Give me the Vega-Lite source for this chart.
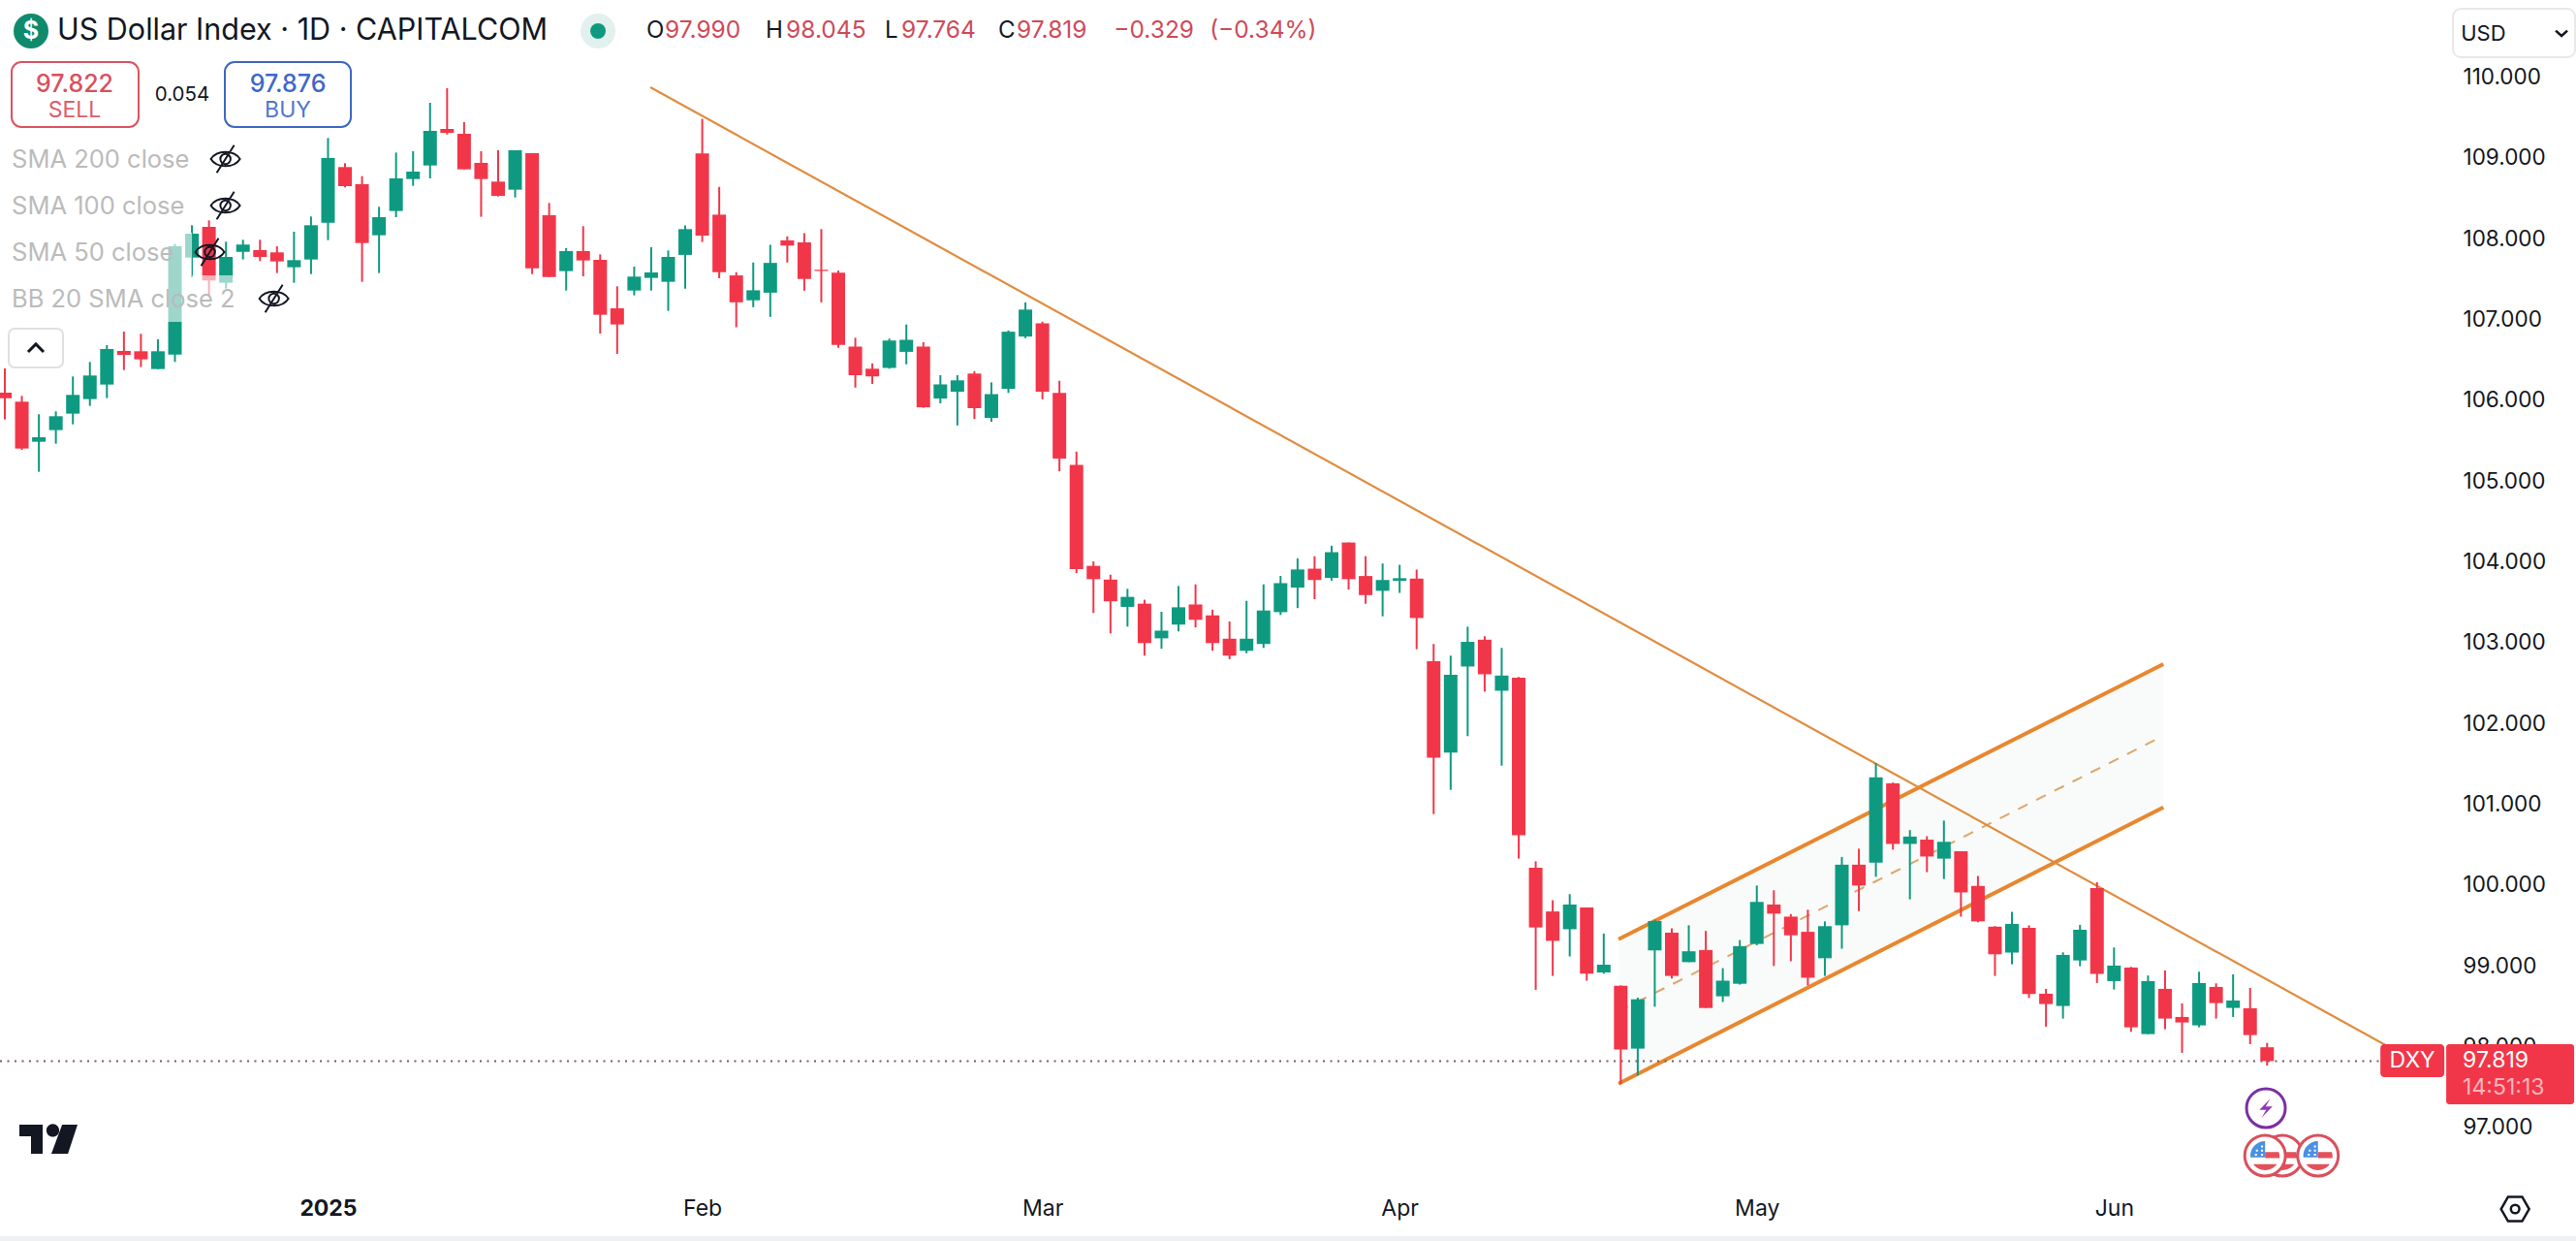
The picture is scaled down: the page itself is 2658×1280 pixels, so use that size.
{
  "$schema": "https://vega.github.io/schema/vega-lite/v6.json",
  "width": 2658,
  "height": 1280,
  "autosize": {"type": "none"},
  "padding": 0,
  "background": "white",
  "config": {
    "view": {"stroke": null},
    "text": {"font": "Inter", "baseline": "middle"}
  },
  "datasets": {
    "candles": [
      {"bar":0,"open":106.093,"high":106.393,"low":105.761,"close":106.025},
      {"bar":1,"open":105.981,"high":106.053,"low":105.385,"close":105.401},
      {"bar":2,"open":105.485,"high":105.825,"low":105.113,"close":105.541},
      {"bar":3,"open":105.629,"high":105.861,"low":105.461,"close":105.801},
      {"bar":4,"open":105.833,"high":106.293,"low":105.701,"close":106.065},
      {"bar":5,"open":106.013,"high":106.473,"low":105.929,"close":106.305},
      {"bar":6,"open":106.193,"high":106.681,"low":106.025,"close":106.633},
      {"bar":7,"open":106.609,"high":106.849,"low":106.373,"close":106.561},
      {"bar":8,"open":106.605,"high":106.821,"low":106.409,"close":106.505},
      {"bar":9,"open":106.385,"high":106.753,"low":106.385,"close":106.605},
      {"bar":10,"open":106.565,"high":107.933,"low":106.473,"close":107.905},
      {"bar":11,"open":107.765,"high":108.165,"low":107.521,"close":108.061},
      {"bar":12,"open":108.145,"high":108.225,"low":107.293,"close":107.481},
      {"bar":13,"open":107.453,"high":107.961,"low":107.381,"close":107.773},
      {"bar":14,"open":107.837,"high":107.985,"low":107.741,"close":107.925},
      {"bar":15,"open":107.857,"high":107.985,"low":107.721,"close":107.773},
      {"bar":16,"open":107.829,"high":107.905,"low":107.573,"close":107.717},
      {"bar":17,"open":107.645,"high":108.085,"low":107.453,"close":107.733},
      {"bar":18,"open":107.741,"high":108.273,"low":107.561,"close":108.165},
      {"bar":19,"open":108.197,"high":109.245,"low":107.981,"close":108.997},
      {"bar":20,"open":108.885,"high":108.933,"low":108.633,"close":108.649},
      {"bar":21,"open":108.673,"high":108.773,"low":107.465,"close":107.945},
      {"bar":22,"open":108.041,"high":108.393,"low":107.573,"close":108.265},
      {"bar":23,"open":108.341,"high":109.065,"low":108.265,"close":108.745},
      {"bar":24,"open":108.737,"high":109.081,"low":108.653,"close":108.829},
      {"bar":25,"open":108.905,"high":109.681,"low":108.745,"close":109.333},
      {"bar":26,"open":109.357,"high":109.861,"low":109.289,"close":109.309},
      {"bar":27,"open":109.297,"high":109.441,"low":108.857,"close":108.857},
      {"bar":28,"open":108.937,"high":109.081,"low":108.269,"close":108.737},
      {"bar":29,"open":108.705,"high":109.093,"low":108.521,"close":108.529},
      {"bar":30,"open":108.605,"high":109.093,"low":108.509,"close":109.093},
      {"bar":31,"open":109.057,"high":109.057,"low":107.561,"close":107.633},
      {"bar":32,"open":108.289,"high":108.441,"low":107.525,"close":107.525},
      {"bar":33,"open":107.597,"high":107.881,"low":107.357,"close":107.845},
      {"bar":34,"open":107.845,"high":108.153,"low":107.533,"close":107.729},
      {"bar":35,"open":107.737,"high":107.805,"low":106.825,"close":107.057},
      {"bar":36,"open":107.137,"high":107.409,"low":106.573,"close":106.937},
      {"bar":37,"open":107.357,"high":107.653,"low":107.297,"close":107.529},
      {"bar":38,"open":107.513,"high":107.893,"low":107.357,"close":107.581},
      {"bar":39,"open":107.465,"high":107.853,"low":107.105,"close":107.773},
      {"bar":40,"open":107.798,"high":108.162,"low":107.380,"close":108.117},
      {"bar":41,"open":109.053,"high":109.482,"low":107.958,"close":108.037},
      {"bar":42,"open":108.296,"high":108.640,"low":107.509,"close":107.584},
      {"bar":43,"open":107.544,"high":107.584,"low":106.902,"close":107.211},
      {"bar":44,"open":107.236,"high":107.704,"low":107.151,"close":107.360},
      {"bar":45,"open":107.330,"high":107.923,"low":107.031,"close":107.699},
      {"bar":46,"open":107.978,"high":108.027,"low":107.704,"close":107.913},
      {"bar":47,"open":107.953,"high":108.067,"low":107.355,"close":107.500},
      {"bar":48,"open":107.614,"high":108.117,"low":107.211,"close":107.599},
      {"bar":49,"open":107.579,"high":107.604,"low":106.648,"close":106.683},
      {"bar":50,"open":106.663,"high":106.772,"low":106.155,"close":106.309},
      {"bar":51,"open":106.389,"high":106.454,"low":106.200,"close":106.294},
      {"bar":52,"open":106.399,"high":106.762,"low":106.389,"close":106.738},
      {"bar":53,"open":106.598,"high":106.937,"low":106.444,"close":106.747},
      {"bar":54,"open":106.663,"high":106.718,"low":105.906,"close":105.911},
      {"bar":55,"open":106.020,"high":106.309,"low":105.961,"close":106.195},
      {"bar":56,"open":106.105,"high":106.309,"low":105.687,"close":106.245},
      {"bar":57,"open":106.329,"high":106.359,"low":105.766,"close":105.901},
      {"bar":58,"open":105.781,"high":106.220,"low":105.732,"close":106.075},
      {"bar":59,"open":106.140,"high":106.862,"low":106.090,"close":106.847},
      {"bar":60,"open":106.787,"high":107.211,"low":106.767,"close":107.121},
      {"bar":61,"open":106.952,"high":106.972,"low":106.010,"close":106.105},
      {"bar":62,"open":106.090,"high":106.240,"low":105.119,"close":105.278},
      {"bar":63,"open":105.199,"high":105.363,"low":103.859,"close":103.909},
      {"bar":64,"open":103.949,"high":104.004,"low":103.366,"close":103.784},
      {"bar":65,"open":103.779,"high":103.839,"low":103.112,"close":103.510},
      {"bar":66,"open":103.441,"high":103.665,"low":103.197,"close":103.565},
      {"bar":67,"open":103.481,"high":103.530,"low":102.838,"close":102.993},
      {"bar":68,"open":103.052,"high":103.381,"low":102.923,"close":103.147},
      {"bar":69,"open":103.222,"high":103.700,"low":103.137,"close":103.436},
      {"bar":70,"open":103.471,"high":103.720,"low":103.187,"close":103.281},
      {"bar":71,"open":103.336,"high":103.406,"low":102.898,"close":102.993},
      {"bar":72,"open":103.047,"high":103.261,"low":102.793,"close":102.838},
      {"bar":73,"open":102.898,"high":103.516,"low":102.868,"close":103.047},
      {"bar":74,"open":102.982,"high":103.720,"low":102.933,"close":103.396},
      {"bar":75,"open":103.376,"high":103.824,"low":103.341,"close":103.735},
      {"bar":76,"open":103.680,"high":104.043,"low":103.426,"close":103.904},
      {"bar":77,"open":103.914,"high":104.068,"low":103.536,"close":103.774},
      {"bar":78,"open":103.799,"high":104.198,"low":103.765,"close":104.118},
      {"bar":79,"open":104.238,"high":104.238,"low":103.655,"close":103.784},
      {"bar":80,"open":103.823,"high":104.069,"low":103.480,"close":103.587},
      {"bar":81,"open":103.640,"high":103.978,"low":103.324,"close":103.774},
      {"bar":82,"open":103.764,"high":103.962,"low":103.614,"close":103.796},
      {"bar":83,"open":103.791,"high":103.903,"low":102.917,"close":103.303},
      {"bar":84,"open":102.767,"high":102.982,"low":100.876,"close":101.573},
      {"bar":85,"open":101.637,"high":102.837,"low":101.176,"close":102.601},
      {"bar":86,"open":102.703,"high":103.196,"low":101.841,"close":103.008},
      {"bar":87,"open":103.035,"high":103.078,"low":102.392,"close":102.607},
      {"bar":88,"open":102.403,"high":102.933,"low":101.476,"close":102.591},
      {"bar":89,"open":102.564,"high":102.574,"low":100.325,"close":100.614},
      {"bar":90,"open":100.212,"high":100.292,"low":98.701,"close":99.473},
      {"bar":91,"open":99.671,"high":99.810,"low":98.873,"close":99.307},
      {"bar":92,"open":99.451,"high":99.885,"low":99.114,"close":99.757},
      {"bar":93,"open":99.719,"high":99.719,"low":98.814,"close":98.900},
      {"bar":94,"open":98.916,"high":99.398,"low":98.900,"close":99.012},
      {"bar":95,"open":98.750,"high":98.755,"low":97.534,"close":97.962},
      {"bar":96,"open":97.973,"high":98.605,"low":97.641,"close":98.584},
      {"bar":97,"open":99.189,"high":99.569,"low":98.492,"close":99.553},
      {"bar":98,"open":99.408,"high":99.462,"low":98.841,"close":98.873},
      {"bar":99,"open":99.044,"high":99.500,"low":99.044,"close":99.178},
      {"bar":100,"open":99.194,"high":99.430,"low":98.476,"close":98.476},
      {"bar":101,"open":98.621,"high":98.969,"low":98.551,"close":98.814},
      {"bar":102,"open":98.776,"high":99.317,"low":98.766,"close":99.242},
      {"bar":103,"open":99.269,"high":99.992,"low":99.253,"close":99.789},
      {"bar":104,"open":99.757,"high":99.933,"low":98.996,"close":99.644},
      {"bar":105,"open":99.607,"high":99.639,"low":99.055,"close":99.376},
      {"bar":106,"open":99.419,"high":99.692,"low":98.755,"close":98.851},
      {"bar":107,"open":99.092,"high":99.548,"low":98.873,"close":99.489},
      {"bar":108,"open":99.500,"high":100.346,"low":99.210,"close":100.250},
      {"bar":109,"open":100.250,"high":100.448,"low":99.676,"close":99.992},
      {"bar":110,"open":100.276,"high":101.508,"low":100.100,"close":101.332},
      {"bar":111,"open":101.257,"high":101.267,"low":100.437,"close":100.507},
      {"bar":112,"open":100.507,"high":100.678,"low":99.821,"close":100.598},
      {"bar":113,"open":100.560,"high":100.603,"low":100.158,"close":100.351},
      {"bar":114,"open":100.325,"high":100.796,"low":100.073,"close":100.533},
      {"bar":115,"open":100.416,"high":100.416,"low":99.607,"close":99.907},
      {"bar":116,"open":99.987,"high":100.110,"low":99.537,"close":99.548},
      {"bar":117,"open":99.483,"high":99.489,"low":98.873,"close":99.141},
      {"bar":118,"open":99.162,"high":99.666,"low":99.017,"close":99.516},
      {"bar":119,"open":99.467,"high":99.500,"low":98.600,"close":98.648},
      {"bar":120,"open":98.653,"high":98.713,"low":98.245,"close":98.525},
      {"bar":121,"open":98.501,"high":99.165,"low":98.345,"close":99.133},
      {"bar":122,"open":99.065,"high":99.505,"low":98.993,"close":99.445},
      {"bar":123,"open":99.961,"high":100.033,"low":98.785,"close":98.897},
      {"bar":124,"open":98.809,"high":99.225,"low":98.705,"close":99.001},
      {"bar":125,"open":98.977,"high":98.985,"low":98.181,"close":98.237},
      {"bar":126,"open":98.153,"high":98.879,"low":98.153,"close":98.809},
      {"bar":127,"open":98.713,"high":98.941,"low":98.213,"close":98.345},
      {"bar":128,"open":98.365,"high":98.533,"low":97.921,"close":98.297},
      {"bar":129,"open":98.261,"high":98.925,"low":98.237,"close":98.785},
      {"bar":130,"open":98.737,"high":98.781,"low":98.345,"close":98.537},
      {"bar":131,"open":98.477,"high":98.893,"low":98.365,"close":98.569},
      {"bar":132,"open":98.473,"high":98.725,"low":98.029,"close":98.141},
      {"bar":133,"open":97.990,"high":98.045,"low":97.764,"close":97.819}
    ],
    "channel": [
      {"bar":94.87,"upper":99.328,"mid":98.434,"lower":97.540},
      {"bar":126.9,"upper":102.733,"mid":101.846,"lower":100.960}
    ],
    "trend": [
      {"bar":37.95,"price":109.873},
      {"bar":140.2,"price":97.99}
    ],
    "ohlcValues": [
      {"bar":38.80,"price":110.569,"label":"97.990"},
      {"bar":45.93,"price":110.569,"label":"98.045"},
      {"bar":52.71,"price":110.569,"label":"97.764"},
      {"bar":59.49,"price":110.569,"label":"97.819"},
      {"bar":65.2,"price":110.569,"label":"−0.329"},
      {"bar":70.83,"price":110.569,"label":"(−0.34%)"}
    ],
    "ohlcKeys": [
      {"bar":37.72,"price":110.569,"label":"O"},
      {"bar":44.73,"price":110.569,"label":"H"},
      {"bar":51.74,"price":110.569,"label":"L"},
      {"bar":58.40,"price":110.569,"label":"C"}
    ],
    "studies": [
      {"bar":0.4,"price":108.973,"label":"SMA 200 close"},
      {"bar":0.4,"price":108.397,"label":"SMA 100 close"},
      {"bar":0.4,"price":107.821,"label":"SMA 50 close"},
      {"bar":0.4,"price":107.245,"label":"BB 20 SMA close 2"}
    ],
    "eyes": [
      {"bar":12.969,"price":108.985},
      {"bar":12.969,"price":108.409},
      {"bar":12.051,"price":107.833},
      {"bar":15.818,"price":107.257}
    ],
    "flagsFront": [
      {"bar":132.88,"price":96.648},
      {"bar":135.99,"price":96.648}
    ],
    "flagBack": [
      {"bar":133.9,"price":96.648}
    ]
  },
  "layer": [
    {
      "data": {"values": [{"bar":-0.285,"bar2":151.16,"price":95.652,"price2":95.592}]},
      "mark": {"type": "rect", "fill": "#eff0f2"},
      "encoding": {
        "x": {
          "field": "bar",
          "type": "quantitative",
          "scale": {"domain": [-0.285, 151.16], "nice": false, "zero": false, "padding": 0},
          "axis": {
            "title": null,
            "orient": "bottom",
            "offset": -45,
            "domain": false,
            "ticks": false,
            "grid": false,
            "values": [19, 41, 61, 82, 103, 124],
            "labelExpr": "datum.value == 19 ? '2025' : datum.value == 41 ? 'Feb' : datum.value == 61 ? 'Mar' : datum.value == 82 ? 'Apr' : datum.value == 103 ? 'May' : 'Jun'",
            "labelFont": "Inter",
            "labelFontSize": 23,
            "labelColor": "#131722",
            "labelPadding": 0,
            "labelFlush": false,
            "labelOverlap": false,
            "labelBaseline": "top",
            "labelFontWeight": {"condition": {"test": "datum.value == 19", "value": 700}, "value": 400}
          }
        },
        "x2": {"field": "bar2"},
        "y": {
          "field": "price",
          "type": "quantitative",
          "scale": {"domain": [95.592, 110.953], "nice": false, "zero": false},
          "axis": {
            "title": null,
            "orient": "right",
            "offset": -117,
            "domain": false,
            "ticks": false,
            "grid": false,
            "values": [97, 98, 99, 100, 101, 102, 103, 104, 105, 106, 107, 108, 109, 110],
            "format": ".3f",
            "labelFont": "Inter",
            "labelFontSize": 22.5,
            "labelColor": "#131722",
            "labelPadding": 0,
            "labelFlush": false,
            "labelOverlap": false,
            "labelAlign": "left"
          }
        },
        "y2": {"field": "price2"}
      }
    },
    {
      "data": {"name": "channel"},
      "mark": {"type": "area", "fill": "#f8fbf9"},
      "encoding": {
        "x": {"field": "bar", "type": "quantitative"},
        "y": {"field": "lower", "type": "quantitative"},
        "y2": {"field": "upper"}
      }
    },
    {
      "data": {"name": "channel"},
      "mark": {"type": "line", "stroke": "#e8872f", "strokeWidth": 4},
      "encoding": {
        "x": {"field": "bar", "type": "quantitative"},
        "y": {"field": "upper", "type": "quantitative"}
      }
    },
    {
      "data": {"name": "channel"},
      "mark": {"type": "line", "stroke": "#e8872f", "strokeWidth": 4},
      "encoding": {
        "x": {"field": "bar", "type": "quantitative"},
        "y": {"field": "lower", "type": "quantitative"}
      }
    },
    {
      "data": {"name": "channel"},
      "mark": {"type": "line", "stroke": "#e0a56c", "strokeWidth": 2, "strokeDash": [11, 10]},
      "encoding": {
        "x": {"field": "bar", "type": "quantitative"},
        "y": {"field": "mid", "type": "quantitative"}
      }
    },
    {
      "data": {"name": "trend"},
      "mark": {"type": "line", "stroke": "#e08c3e", "strokeWidth": 2.2},
      "encoding": {
        "x": {"field": "bar", "type": "quantitative"},
        "y": {"field": "price", "type": "quantitative"}
      }
    },
    {
      "data": {"values": [{"bar":-0.285,"bar2":139.7,"price":97.819}]},
      "mark": {"type": "rule", "stroke": "#7d5a5c", "strokeWidth": 2, "strokeDash": [2, 5.5]},
      "encoding": {
        "x": {"field": "bar", "type": "quantitative"},
        "x2": {"field": "bar2"},
        "y": {"field": "price", "type": "quantitative"}
      }
    },
    {
      "data": {"name": "candles"},
      "mark": {"type": "rule", "strokeWidth": 2},
      "encoding": {
        "x": {"field": "bar", "type": "quantitative"},
        "y": {"field": "low", "type": "quantitative"},
        "y2": {"field": "high"},
        "color": {"condition": {"test": "datum.close >= datum.open", "value": "#0e9a80"}, "value": "#f23649"}
      }
    },
    {
      "data": {"name": "candles"},
      "mark": {"type": "bar", "size": 14, "orient": "vertical"},
      "encoding": {
        "x": {"field": "bar", "type": "quantitative"},
        "y": {"field": "open", "type": "quantitative"},
        "y2": {"field": "close"},
        "color": {"condition": {"test": "datum.close >= datum.open", "value": "#0e9a80"}, "value": "#f23649"}
      }
    },
    {
      "data": {"values": [
        {"bar":-0.285,"bar2":16.24,"price":107.545,"price2":106.969},
        {"bar":-0.285,"bar2":11,"price":108.073,"price2":107.545}
      ]},
      "mark": {"type": "rect", "fill": "white", "opacity": 0.6},
      "encoding": {
        "x": {"field": "bar", "type": "quantitative"},
        "x2": {"field": "bar2"},
        "y": {"field": "price", "type": "quantitative"},
        "y2": {"field": "price2"}
      }
    },
    {
      "data": {"values": [{"bar":3.077,"price":110.569,"label":"US Dollar Index · 1D · CAPITALCOM"}]},
      "mark": {"type": "text", "align": "left", "fontSize": 30.5, "color": "#131722"},
      "encoding": {
        "x": {"field": "bar", "type": "quantitative"},
        "y": {"field": "price", "type": "quantitative"},
        "text": {"field": "label"}
      }
    },
    {
      "data": {"values": [{"bar":1.538,"price":110.569}]},
      "mark": {"type": "point", "shape": "circle", "filled": true, "fill": "#0f8a6d", "size": 1296, "opacity": 1},
      "encoding": {
        "x": {"field": "bar", "type": "quantitative"},
        "y": {"field": "price", "type": "quantitative"}
      }
    },
    {
      "data": {"values": [{"bar":1.538,"price":110.569,"label":"$"}]},
      "mark": {"type": "text", "fontSize": 25, "fontWeight": 700, "color": "white"},
      "encoding": {
        "x": {"field": "bar", "type": "quantitative"},
        "y": {"field": "price", "type": "quantitative"},
        "text": {"field": "label"}
      }
    },
    {
      "data": {"values": [{"bar":34.872,"price":110.569}]},
      "mark": {"type": "point", "shape": "circle", "filled": true, "fill": "#e3f1ee", "size": 1296, "opacity": 1},
      "encoding": {
        "x": {"field": "bar", "type": "quantitative"},
        "y": {"field": "price", "type": "quantitative"}
      }
    },
    {
      "data": {"values": [{"bar":34.872,"price":110.569}]},
      "mark": {"type": "point", "shape": "circle", "filled": true, "fill": "#0e9a80", "size": 256, "opacity": 1},
      "encoding": {
        "x": {"field": "bar", "type": "quantitative"},
        "y": {"field": "price", "type": "quantitative"}
      }
    },
    {
      "data": {"name": "ohlcKeys"},
      "mark": {"type": "text", "align": "left", "fontSize": 24, "color": "#131722"},
      "encoding": {
        "x": {"field": "bar", "type": "quantitative"},
        "y": {"field": "price", "type": "quantitative"},
        "text": {"field": "label"}
      }
    },
    {
      "data": {"name": "ohlcValues"},
      "mark": {"type": "text", "align": "left", "fontSize": 24.5, "color": "#cf4a58"},
      "encoding": {
        "x": {"field": "bar", "type": "quantitative"},
        "y": {"field": "price", "type": "quantitative"},
        "text": {"field": "label"}
      }
    },
    {
      "data": {"values": [{"bar":0.399,"bar2":7.863,"price":110.185,"price2":109.381}]},
      "mark": {"type": "rect", "fill": "transparent", "stroke": "#d9545f", "strokeWidth": 2, "cornerRadius": 10},
      "encoding": {
        "x": {"field": "bar", "type": "quantitative"},
        "x2": {"field": "bar2"},
        "y": {"field": "price", "type": "quantitative"},
        "y2": {"field": "price2"}
      }
    },
    {
      "data": {"values": [{"bar":12.934,"bar2":20.342,"price":110.185,"price2":109.381}]},
      "mark": {"type": "rect", "fill": "transparent", "stroke": "#3f67c0", "strokeWidth": 2, "cornerRadius": 10},
      "encoding": {
        "x": {"field": "bar", "type": "quantitative"},
        "x2": {"field": "bar2"},
        "y": {"field": "price", "type": "quantitative"},
        "y2": {"field": "price2"}
      }
    },
    {
      "data": {"values": [{"bar":4.103,"price":109.909,"label":"97.822"}]},
      "mark": {"type": "text", "fontSize": 25, "fontWeight": 500, "color": "#d9505c"},
      "encoding": {
        "x": {"field": "bar", "type": "quantitative"},
        "y": {"field": "price", "type": "quantitative"},
        "text": {"field": "label"}
      }
    },
    {
      "data": {"values": [{"bar":4.103,"price":109.585,"label":"SELL"}]},
      "mark": {"type": "text", "fontSize": 23, "color": "#d9606b"},
      "encoding": {
        "x": {"field": "bar", "type": "quantitative"},
        "y": {"field": "price", "type": "quantitative"},
        "text": {"field": "label"}
      }
    },
    {
      "data": {"values": [{"bar":16.638,"price":109.909,"label":"97.876"}]},
      "mark": {"type": "text", "fontSize": 25, "fontWeight": 500, "color": "#3f67c8"},
      "encoding": {
        "x": {"field": "bar", "type": "quantitative"},
        "y": {"field": "price", "type": "quantitative"},
        "text": {"field": "label"}
      }
    },
    {
      "data": {"values": [{"bar":16.638,"price":109.585,"label":"BUY"}]},
      "mark": {"type": "text", "fontSize": 23, "color": "#5276cc"},
      "encoding": {
        "x": {"field": "bar", "type": "quantitative"},
        "y": {"field": "price", "type": "quantitative"},
        "text": {"field": "label"}
      }
    },
    {
      "data": {"values": [{"bar":10.427,"price":109.777,"label":"0.054"}]},
      "mark": {"type": "text", "fontSize": 20.5, "color": "#131722"},
      "encoding": {
        "x": {"field": "bar", "type": "quantitative"},
        "y": {"field": "price", "type": "quantitative"},
        "text": {"field": "label"}
      }
    },
    {
      "data": {"name": "studies"},
      "mark": {"type": "text", "align": "left", "fontSize": 25.5, "color": "#bbbbbb"},
      "encoding": {
        "x": {"field": "bar", "type": "quantitative"},
        "y": {"field": "price", "type": "quantitative"},
        "text": {"field": "label"}
      }
    },
    {
      "data": {"name": "eyes"},
      "mark": {
        "type": "point",
        "shape": "M-1,0C-.6,-.65 .6,-.65 1,0C.6,.65 -.6,.65 -1,0Z M-.35,0A.35,.35 0 1 1 .35,0A.35,.35 0 1 1 -.35,0Z M.6,-.95L-.6,.95",
        "filled": false,
        "stroke": "#131722",
        "strokeWidth": 2,
        "size": 900,
        "opacity": 1
      },
      "encoding": {
        "x": {"field": "bar", "type": "quantitative"},
        "y": {"field": "price", "type": "quantitative"}
      }
    },
    {
      "data": {"values": [{"bar":0.228,"bar2":3.419,"price":106.885,"price2":106.405}]},
      "mark": {"type": "rect", "fill": "white", "stroke": "#e0e0e0", "strokeWidth": 2, "cornerRadius": 6},
      "encoding": {
        "x": {"field": "bar", "type": "quantitative"},
        "x2": {"field": "bar2"},
        "y": {"field": "price", "type": "quantitative"},
        "y2": {"field": "price2"}
      }
    },
    {
      "data": {"values": [{"bar":1.823,"price":106.645}]},
      "mark": {"type": "point", "shape": "M-1,.5L0,-.5L1,.5", "filled": false, "stroke": "#131722", "strokeWidth": 3, "size": 256, "opacity": 1},
      "encoding": {
        "x": {"field": "bar", "type": "quantitative"},
        "y": {"field": "price", "type": "quantitative"}
      }
    },
    {
      "data": {"values": [{"bar":143.93,"bar2":151.11,"price":110.845,"price2":110.245}]},
      "mark": {"type": "rect", "fill": "white", "stroke": "#e8e8e8", "strokeWidth": 2, "cornerRadius": 8},
      "encoding": {
        "x": {"field": "bar", "type": "quantitative"},
        "x2": {"field": "bar2"},
        "y": {"field": "price", "type": "quantitative"},
        "y2": {"field": "price2"}
      }
    },
    {
      "data": {"values": [{"bar":144.39,"price":110.533,"label":"USD"}]},
      "mark": {"type": "text", "align": "left", "fontSize": 22, "color": "#131722"},
      "encoding": {
        "x": {"field": "bar", "type": "quantitative"},
        "y": {"field": "price", "type": "quantitative"},
        "text": {"field": "label"}
      }
    },
    {
      "data": {"values": [{"bar":150.31,"price":110.545}]},
      "mark": {"type": "point", "shape": "M-1,-.4L0,.5L1,-.4", "filled": false, "stroke": "#131722", "strokeWidth": 2.5, "size": 144, "opacity": 1},
      "encoding": {
        "x": {"field": "bar", "type": "quantitative"},
        "y": {"field": "price", "type": "quantitative"}
      }
    },
    {
      "data": {"values": [{"bar":2.564,"price":96.853}]},
      "mark": {
        "type": "point",
        "shape": "M-1,-.5H-.2V.5H-.6V-.1H-1Z M.47,-.5H1L.67,.5H.1Z M.37,-.3A.22,.22 0 1 1 -.07,-.3A.22,.22 0 1 1 .37,-.3Z",
        "filled": true,
        "fill": "#131722",
        "size": 3600,
        "opacity": 1
      },
      "encoding": {
        "x": {"field": "bar", "type": "quantitative"},
        "y": {"field": "price", "type": "quantitative"}
      }
    },
    {
      "data": {"values": [{"bar":147.58,"price":95.988}]},
      "mark": {
        "type": "point",
        "shape": "M-1,0L-.5,-.87H.5L1,0L.5,.87H-.5Z M-.3,0A.3,.3 0 1 1 .3,0A.3,.3 0 1 1 -.3,0Z",
        "filled": false,
        "stroke": "#131722",
        "strokeWidth": 2.5,
        "size": 841,
        "opacity": 1
      },
      "encoding": {
        "x": {"field": "bar", "type": "quantitative"},
        "y": {"field": "price", "type": "quantitative"}
      }
    },
    {
      "data": {"values": [{"bar":139.66,"bar2":143.42,"price":98.028,"price2":97.621}]},
      "mark": {"type": "rect", "fill": "#f23649", "cornerRadius": 4},
      "encoding": {
        "x": {"field": "bar", "type": "quantitative"},
        "x2": {"field": "bar2"},
        "y": {"field": "price", "type": "quantitative"},
        "y2": {"field": "price2"}
      }
    },
    {
      "data": {"values": [{"bar":143.53,"bar2":151.05,"price":98.028,"price2":97.285}]},
      "mark": {"type": "rect", "fill": "#f23649", "cornerRadius": 3},
      "encoding": {
        "x": {"field": "bar", "type": "quantitative"},
        "x2": {"field": "bar2"},
        "y": {"field": "price", "type": "quantitative"},
        "y2": {"field": "price2"}
      }
    },
    {
      "data": {"values": [{"bar":141.54,"price":97.825,"label":"DXY"}]},
      "mark": {"type": "text", "fontSize": 23, "color": "white"},
      "encoding": {
        "x": {"field": "bar", "type": "quantitative"},
        "y": {"field": "price", "type": "quantitative"},
        "text": {"field": "label"}
      }
    },
    {
      "data": {"values": [{"bar":144.5,"price":97.825,"label":"97.819"}]},
      "mark": {"type": "text", "align": "left", "fontSize": 23, "color": "white"},
      "encoding": {
        "x": {"field": "bar", "type": "quantitative"},
        "y": {"field": "price", "type": "quantitative"},
        "text": {"field": "label"}
      }
    },
    {
      "data": {"values": [{"bar":144.5,"price":97.488,"label":"14:51:13"}]},
      "mark": {"type": "text", "align": "left", "fontSize": 23, "color": "#f9b6bd"},
      "encoding": {
        "x": {"field": "bar", "type": "quantitative"},
        "y": {"field": "price", "type": "quantitative"},
        "text": {"field": "label"}
      }
    },
    {
      "data": {"values": [{"bar":132.93,"price":97.237}]},
      "mark": {"type": "point", "shape": "circle", "filled": true, "fill": "white", "stroke": "#7b2fa3", "strokeWidth": 3, "size": 1600, "opacity": 1},
      "encoding": {
        "x": {"field": "bar", "type": "quantitative"},
        "y": {"field": "price", "type": "quantitative"}
      }
    },
    {
      "data": {"values": [{"bar":132.93,"price":97.237}]},
      "mark": {"type": "point", "shape": "M.3,-.65L-.45,.12H.02L-.3,.65L.45,-.12H-.02Z", "filled": true, "fill": "#8e3ab8", "size": 900, "opacity": 1},
      "encoding": {
        "x": {"field": "bar", "type": "quantitative"},
        "y": {"field": "price", "type": "quantitative"}
      }
    },
    {
      "data": {"name": "flagBack"},
      "mark": {"type": "point", "shape": "circle", "filled": true, "fill": "white", "stroke": "#d9505c", "strokeWidth": 3, "size": 1764, "opacity": 1},
      "encoding": {
        "x": {"field": "bar", "type": "quantitative"},
        "y": {"field": "price", "type": "quantitative"}
      }
    },
    {
      "data": {"name": "flagBack"},
      "mark": {"type": "point", "shape": "M0,-.18H.68A.72,.72 0 0 1 .71,.12H0Z M-.58,.42H.58A.72,.72 0 0 1 -.58,.42Z", "filled": true, "fill": "#e4505a", "size": 1764, "opacity": 1},
      "encoding": {
        "x": {"field": "bar", "type": "quantitative"},
        "y": {"field": "price", "type": "quantitative"}
      }
    },
    {
      "data": {"name": "flagsFront"},
      "mark": {"type": "point", "shape": "circle", "filled": true, "fill": "white", "stroke": "#d9505c", "strokeWidth": 3, "size": 1764, "opacity": 1},
      "encoding": {
        "x": {"field": "bar", "type": "quantitative"},
        "y": {"field": "price", "type": "quantitative"}
      }
    },
    {
      "data": {"name": "flagsFront"},
      "mark": {"type": "point", "shape": "M0,-.18H.68A.72,.72 0 0 1 .71,.12H0Z M-.58,.42H.58A.72,.72 0 0 1 -.58,.42Z", "filled": true, "fill": "#e4505a", "size": 1764, "opacity": 1},
      "encoding": {
        "x": {"field": "bar", "type": "quantitative"},
        "y": {"field": "price", "type": "quantitative"}
      }
    },
    {
      "data": {"name": "flagsFront"},
      "mark": {"type": "point", "shape": "M-.72,.08A.72,.72 0 0 1 0,-.72V.08Z", "filled": true, "fill": "#4a90e2", "size": 1764, "opacity": 1},
      "encoding": {
        "x": {"field": "bar", "type": "quantitative"},
        "y": {"field": "price", "type": "quantitative"}
      }
    },
    {
      "data": {"name": "flagsFront"},
      "mark": {"type": "point", "shape": "M-.2,-.5h.1v.1h-.1z M-.45,-.3h.1v.1h-.1z M-.2,-.3h.1v.1h-.1z M-.5,-.1h.1v.1h-.1z M-.2,-.1h.1v.1h-.1z", "filled": true, "fill": "white", "size": 1764, "opacity": 1},
      "encoding": {
        "x": {"field": "bar", "type": "quantitative"},
        "y": {"field": "price", "type": "quantitative"}
      }
    }
  ]
}
